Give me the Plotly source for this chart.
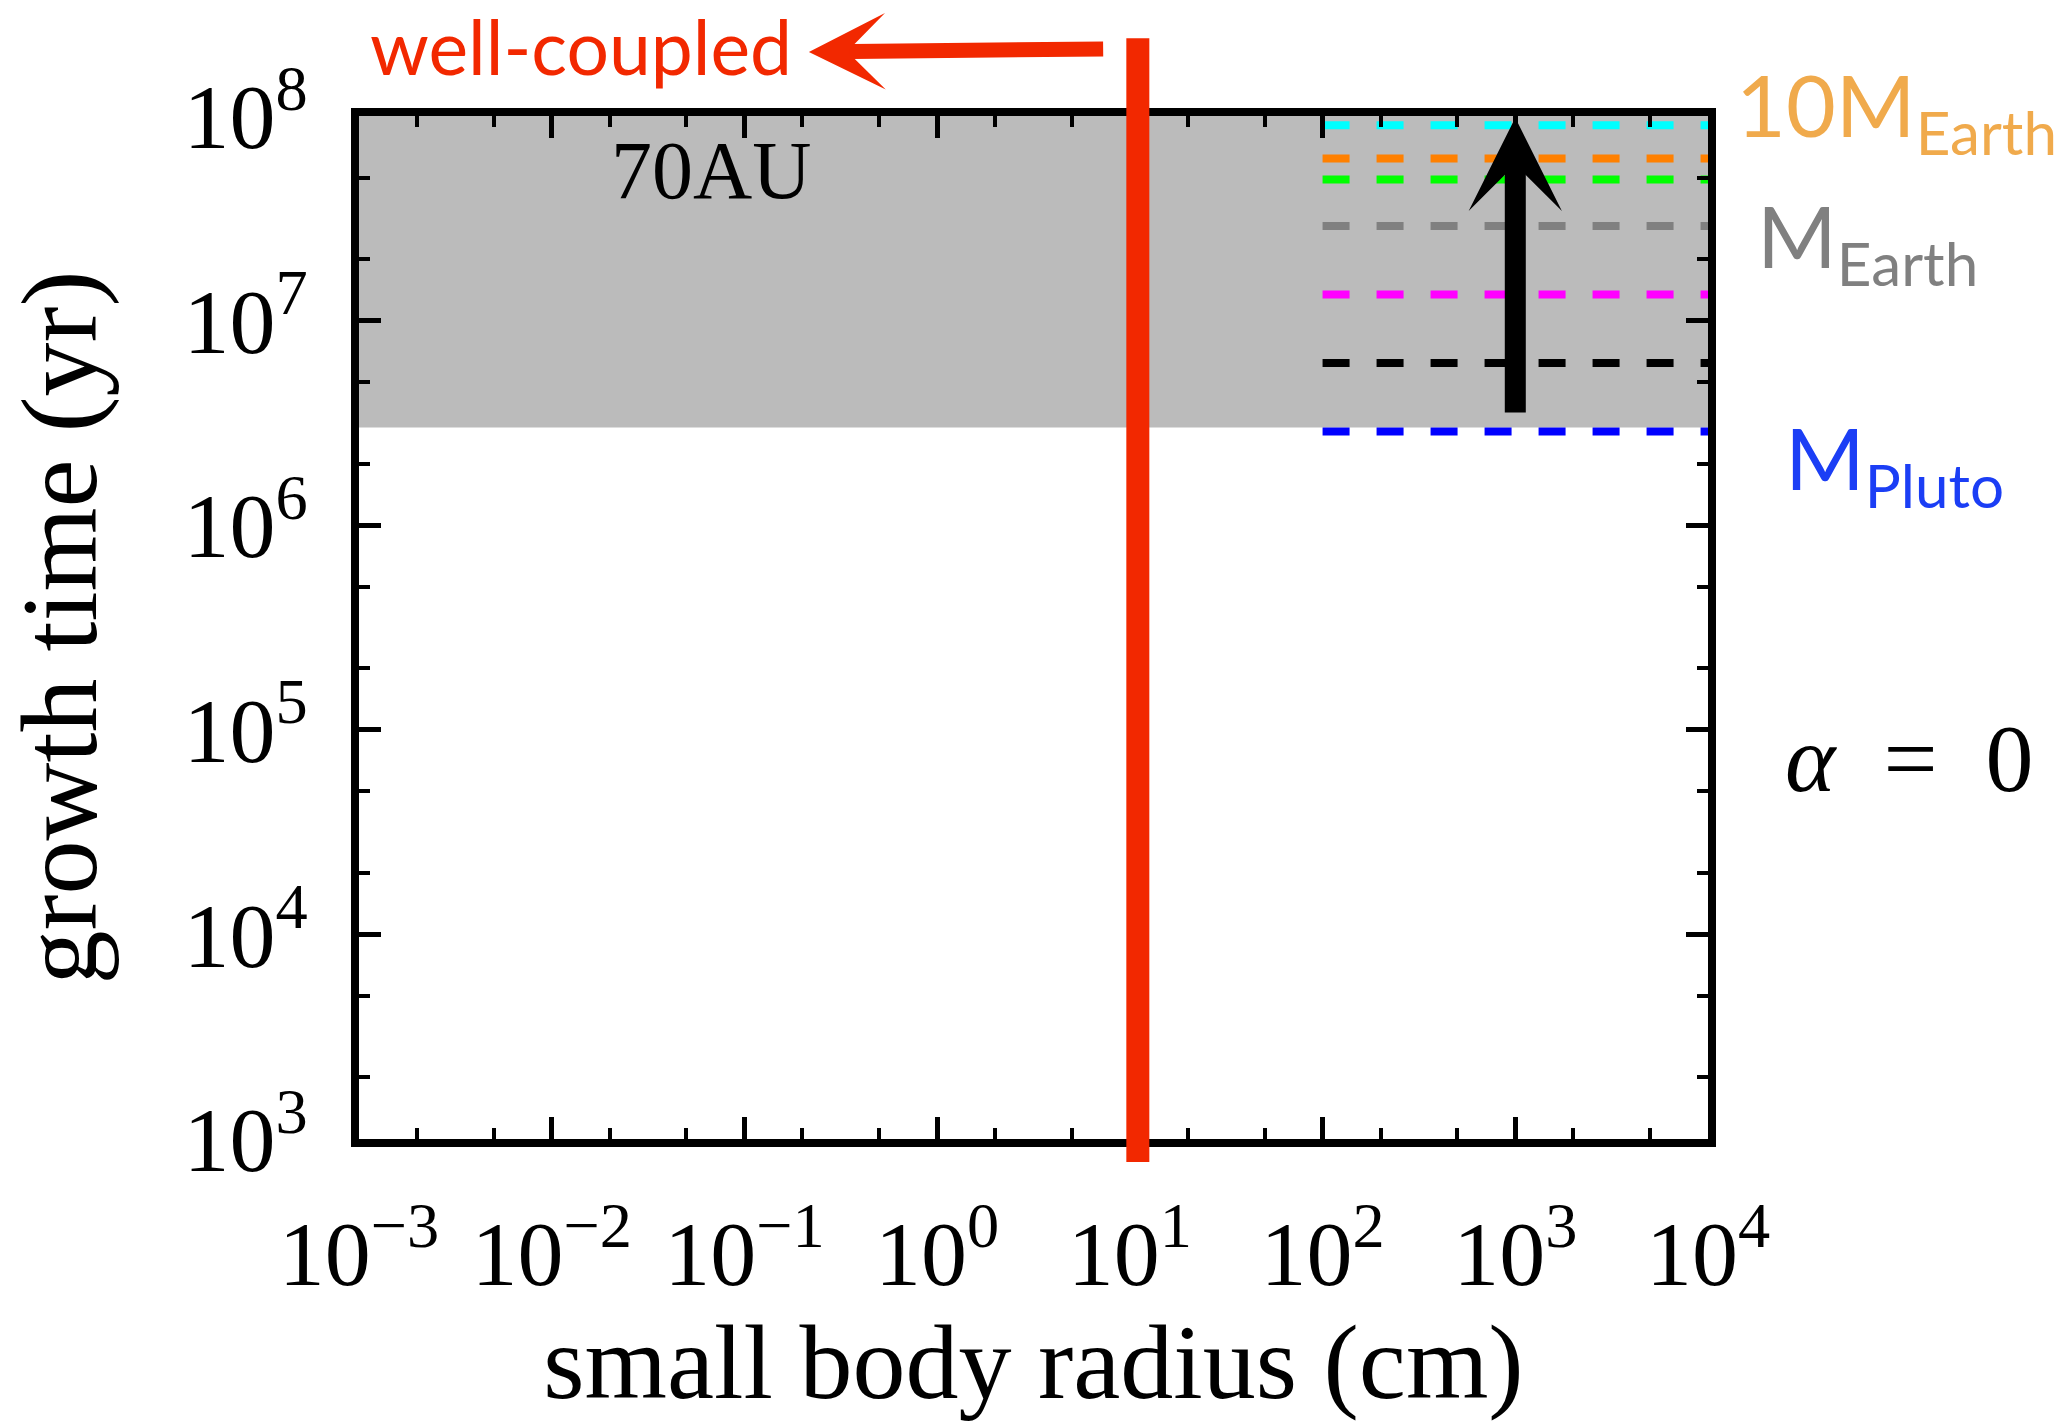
import numpy as np
import plotly.graph_objects as go

# ---------------- data ----------------
x_range_cm = [1e-3, 1e4]
y_range_yr = [1e3, 1e8]

xtick_vals = [1e-3, 1e-2, 1e-1, 1e0, 1e1, 1e2, 1e3, 1e4]
xtick_text = ["10<sup>−3</sup>", "10<sup>−2</sup>", "10<sup>−1</sup>", "10<sup>0</sup>",
              "10<sup>1</sup>", "10<sup>2</sup>", "10<sup>3</sup>", "10<sup>4</sup>"]
ytick_vals = [1e3, 1e4, 1e5, 1e6, 1e7, 1e8]
ytick_text = ["10<sup>3</sup>", "10<sup>4</sup>", "10<sup>5</sup>", "10<sup>6</sup>",
              "10<sup>7</sup>", "10<sup>8</sup>"]

band_radius = [1e-3, 1e4]
band_time = [3.0e6, 1.0e8]

line_radius = [1e2, 1e4]
line_times = [9.0e7, 6.2e7, 4.9e7, 2.9e7, 1.34e7, 6.2e6, 2.87e6]
line_colors = ["#00FFFF", "#FF8000", "#00FF00", "#808080", "#FF00FF", "#000000", "#0000FF"]

coupling_radius = 11.0        # vertical red line (cm)
wellcoupled_arrow_x = [7.4, 0.216]   # tail, tip (cm)

growth_arrow_radius = 1e3
growth_arrow_time = [3.5e6, 9.8e7]   # tail, tip (yr)

mass_labels = ["10M<sub>Earth</sub>", "M<sub>Earth</sub>", "M<sub>Pluto</sub>"]
mass_colors = ["#F0AA4C", "#808080", "#1B3EF5"]

RED = "#F22800"
SERIF = "Liberation Serif"
SANS = "Lato"

# ---------------- figure ----------------
fig = go.Figure()

# grey band
fig.add_trace(go.Scatter(
    x=[band_radius[0], band_radius[1], band_radius[1], band_radius[0], band_radius[0]],
    y=[band_time[0], band_time[0], band_time[1], band_time[1], band_time[0]],
    fill="toself", fillcolor="#BBBBBB", mode="lines", line=dict(width=0, color="#BBBBBB"),
    hoverinfo="skip", showlegend=False))

# dashed lines
for t, c in zip(line_times, line_colors):
    fig.add_trace(go.Scatter(
        x=line_radius, y=[t, t], mode="lines",
        line=dict(color=c, width=8, dash="27px,27px"),
        hoverinfo="skip", showlegend=False))

xlog = np.log10(x_range_cm)
ylog = np.log10(y_range_yr)

def xdom(v):
    return (np.log10(v) - xlog[0]) / (xlog[1] - xlog[0])

# red vertical line
fig.add_shape(type="line", xref="x domain", yref="paper",
              x0=xdom(coupling_radius), x1=xdom(coupling_radius),
              y0=-0.0225, y1=1.076, line=dict(color=RED, width=23), layer="above")

# red arrow
tip_x = np.log10(wellcoupled_arrow_x[1])
tail_px = (np.log10(wellcoupled_arrow_x[0]) - tip_x) / (xlog[1] - xlog[0]) * 1349
fig.add_annotation(xref="x", yref="paper", x=tip_x, y=1.0626, text="",
                   showarrow=True, ax=tail_px, ay=-3, arrowhead=3, arrowsize=0.85,
                   arrowwidth=15, arrowcolor=RED, standoff=0)
fig.add_annotation(xref="paper", yref="paper", x=0.1646, y=1.068, text="well-coupled",
                   showarrow=False, xanchor="center", yanchor="middle",
                   font=dict(family=SANS, size=75, color=RED))

# black arrow
fig.add_annotation(xref="x", yref="y", axref="x", ayref="y",
                   x=np.log10(growth_arrow_radius), y=np.log10(growth_arrow_time[1]),
                   ax=np.log10(growth_arrow_radius), ay=np.log10(growth_arrow_time[0]),
                   text="", showarrow=True, arrowhead=3, arrowsize=0.74, arrowwidth=21,
                   arrowcolor="black", standoff=0)

# 70AU
fig.add_annotation(xref="paper", yref="paper", x=0.261, y=0.947, text="70AU",
                   showarrow=False, xanchor="center", yanchor="middle",
                   font=dict(family=SERIF, size=82, color="black"))

# mass labels
for txt, col, xp, yp in zip(mass_labels, mass_colors,
                            [1.0193, 1.0349, 1.0556], [1.006, 0.878, 0.661]):
    fig.add_annotation(xref="paper", yref="paper", x=xp, y=yp, text=txt,
                       showarrow=False, xanchor="left", yanchor="middle",
                       font=dict(family=SANS, size=86, color=col))

# alpha = 0
fig.add_annotation(xref="paper", yref="paper", x=1.0556, y=0.372,
                   text="<i>α</i>  =  0", showarrow=False, xanchor="left", yanchor="middle",
                   font=dict(family=SERIF, size=96, color="black"))

axis_common = dict(
    type="log", tickmode="array", ticks="inside", ticklen=22, tickwidth=5, tickcolor="black",
    minor=dict(ticks="inside", ticklen=11, tickwidth=4, tickcolor="black", showgrid=False),
    showline=True, linewidth=8, linecolor="black", mirror="allticks",
    showgrid=False, zeroline=False, automargin=False,
    tickfont=dict(family=SERIF, size=92, color="black"),
)

fig.update_xaxes(range=list(xlog), tickvals=xtick_vals, ticktext=xtick_text,
                 ticklabelstandoff=28,
                 title=dict(text="small body radius (cm)",
                            font=dict(family=SERIF, size=106, color="black"), standoff=14),
                 **axis_common)
fig.update_yaxes(range=list(ylog), tickvals=ytick_vals, ticktext=ytick_text,
                 ticklabelstandoff=25,
                 title=dict(text="growth time (yr)",
                            font=dict(family=SERIF, size=108, color="black"), standoff=55),
                 **axis_common)

fig.update_layout(
    width=2071, height=1421,
    margin=dict(l=359, r=363, t=116, b=282),
    paper_bgcolor="white", plot_bgcolor="white",
    showlegend=False,
)

fig.write_html("out.html")
